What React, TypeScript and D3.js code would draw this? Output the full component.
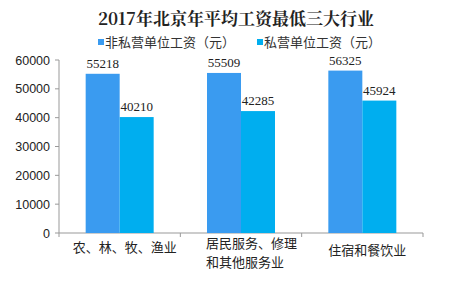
import React from "react";
import * as d3 from "d3";

const categories = ["农、林、牧、渔业", "居民服务、修理\n和其他服务业", "住宿和餐饮业"];
const seriesNames = ["非私营单位工资（元）", "私营单位工资（元）"];
const nonPrivate = [55218, 55509, 56325];
const privateWage = [40210, 42285, 45924];
const yTicks = [0, 10000, 20000, 30000, 40000, 50000, 60000];
const colors = ["#3A9BF0", "#00AEEF"];
const title = "2017年北京年平均工资最低三大行业";

export default function App() {
  const W = 474, H = 296;
  const x0 = 59, x1 = 423, yB = 233, yT = 60;
  const x = d3.scaleBand<string>().domain(categories).range([x0, x1]);
  const y = d3.scaleLinear().domain([0, 60000]).range([yB, yT]);
  const barW = 34;
  const series = [nonPrivate, privateWage];
  const font = "'Noto Sans CJK SC', 'Liberation Sans', sans-serif";
  return (
    <svg width={W} height={H} style={{ position: "absolute", left: 0, top: 0, background: "#fff" }}>
      <text x={236} y={25} textAnchor="middle" fontFamily="'Noto Serif CJK SC','Noto Sans CJK SC', serif" fontWeight="bold" fontSize={17} fill="#222">{title}</text>
      {seriesNames.map((s, i) => {
        const lx = i === 0 ? 98 : 257;
        return (
          <g key={s}>
            <rect x={lx} y={39} width={6} height={6} fill={colors[i]} />
            <text x={lx + 7} y={46.5} fontFamily={font} fontSize={13} fill="#333">{s}</text>
          </g>
        );
      })}
      {/* y axis */}
      <line x1={x0} x2={x0} y1={yT} y2={yB} stroke="#999" />
      {yTicks.map(t => (
        <g key={t}>
          <line x1={x0 - 4} x2={x0} y1={y(t)} y2={y(t)} stroke="#999" />
          <text x={50} y={y(t) + 4.5} textAnchor="end" fontFamily="'Liberation Sans', Arial, sans-serif" fontSize={12.5} fill="#222">{t}</text>
        </g>
      ))}
      {/* x axis */}
      <line x1={x0} x2={x1} y1={yB} y2={yB} stroke="#999" />
      {[...categories.map(c => x(c)!), x1].map((v, i) => (
        <line key={i} x1={v} x2={v} y1={yB} y2={yB + 4} stroke="#999" />
      ))}
      {categories.map((c, ci) => {
        const cx = x(c)! + x.bandwidth() / 2;
        return (
          <g key={c}>
            {series.map((s, si) => {
              const bx = cx - barW + si * barW;
              return (
                <g key={si}>
                  <rect x={bx} y={y(s[ci])} width={barW} height={yB - y(s[ci])} fill={colors[si]} />
                  <text x={bx + barW / 2} y={y(s[ci]) - 6} textAnchor="middle" fontFamily="'Liberation Serif', serif" fontSize={13} fill="#222">{s[ci]}</text>
                </g>
              );
            })}
          </g>
        );
      })}
      {categories.map((c, ci) => {
        const cx = x(c)! + x.bandwidth() / 2 + 5;
        const lines = c.split("\n");
        if (lines.length === 1) {
          return <text key={c} x={cx} y={ci === 0 ? 252 : 255} textAnchor="middle" fontFamily={font} fontSize={13} fill="#222">{c}</text>;
        }
        return (
          <g key={c}>
            {lines.map((l, li) => (
              <text key={li} x={206} y={248 + li * 19} textAnchor="start" fontFamily={font} fontSize={13} fill="#222">{l}</text>
            ))}
          </g>
        );
      })}
    </svg>
  );
}
